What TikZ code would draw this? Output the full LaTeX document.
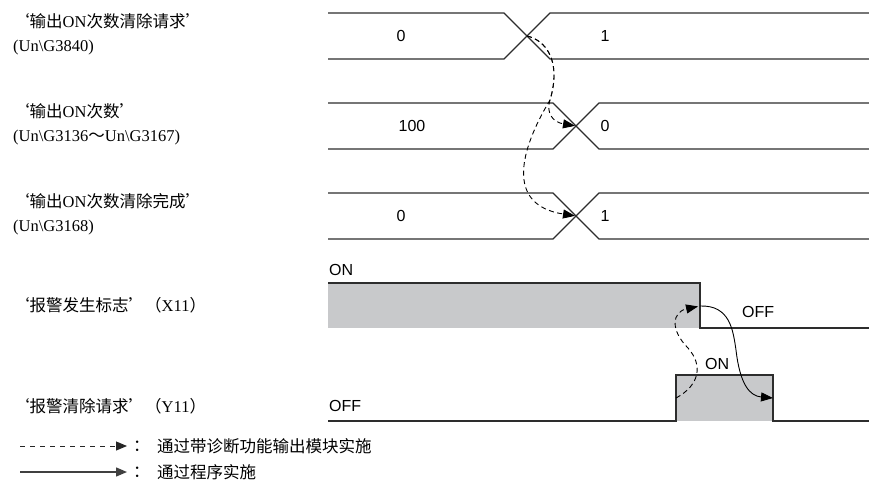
\documentclass[tikz,border=0pt]{standalone}
\usepackage{fontspec}
\setmainfont{Liberation Sans}
\newfontfamily\cjk{Noto Sans CJK SC}
\newfontfamily\lser{Liberation Serif}
\newcommand{\lt}[1]{{\lser #1}}
\usetikzlibrary{arrows.meta}
\definecolor{wavec}{RGB}{45,45,45}
\definecolor{fillg}{RGB}{200,201,203}
\tikzset{
  wave/.style={draw=wavec, line width=1.1pt, line join=miter},
  lbl/.style={font=\cjk\fontsize{16.5}{24}\selectfont, anchor=west, inner sep=0pt, align=left},
  val/.style={font=\fontsize{16}{18}\selectfont, inner sep=0pt},
  dasharrow/.style={draw=black, line width=0.9pt, dash pattern=on 5pt off 3.5pt, -{Triangle[length=12pt,width=9pt]}},
  solidarrow/.style={draw=black, line width=0.9pt, -{Triangle[length=12pt,width=9pt]}},
  legdash/.style={draw=black!85, line width=1pt, dash pattern=on 5pt off 5pt, -{Triangle[length=11pt,width=9pt]}},
  legsolid/.style={draw=black!75, line width=1.4pt, -{Triangle[length=11pt,width=9pt]}}
}
\begin{document}
\begin{tikzpicture}[x=1pt,y=-1pt]
\useasboundingbox (0,0) rectangle (869,482);

% labels
\node[lbl] (l1) at (13,34) {‘输出\lt{ON}次数清除请求’\\\lt{(Un\textbackslash{}G3840)}};
\node[lbl] (l2) at (13,124) {‘输出\lt{ON}次数’\\\lt{(Un\textbackslash{}G3136}～\lt{Un\textbackslash{}G3167)}};
\node[lbl] (l3) at (13,214) {‘输出\lt{ON}次数清除完成’\\\lt{(Un\textbackslash{}G3168)}};
\node[lbl] (l4) at (13,305) {‘报警发生标志’（\lt{X11}）};
\node[lbl] (l5) at (13,406) {‘报警清除请求’（\lt{Y11}）};

% row 1
\draw[wave] (328,13) -- (504,13) -- (550,59) -- (869,59);
\draw[wave] (328,59) -- (504,59) -- (550,13) -- (869,13);
\coordinate (c1) at (527,36);
\node[val] (v1a) at (401,36) {0};
\node[val] (v1b) at (605,36) {1};

% row 2
\draw[wave] (328,103) -- (553,103) -- (599,149) -- (869,149);
\draw[wave] (328,149) -- (553,149) -- (599,103) -- (869,103);
\coordinate (c2) at (576,126);
\node[val] (v2a) at (412,126) {100};
\node[val] (v2b) at (605,126) {0};

% row 3
\draw[wave] (328,193) -- (553,193) -- (599,239) -- (869,239);
\draw[wave] (328,239) -- (553,239) -- (599,193) -- (869,193);
\coordinate (c3) at (576,216);
\node[val] (v3a) at (401,216) {0};
\node[val] (v3b) at (605,216) {1};

% row 4 (X11)
\fill[fillg] (328,283) rectangle (700,328);
\draw[wave] (328,283) -- (700,283) -- (700,328) -- (869,328);
\coordinate (f4) at (700,306);
\node[val, anchor=west] (on4) at (329,270) {ON};
\node[val, anchor=west] (off4) at (742,312) {OFF};

% row 5 (Y11)
\fill[fillg] (676,375) rectangle (773,421);
\draw[wave] (328,421) -- (676,421) -- (676,375) -- (773,375) -- (773,421) -- (869,421);
\coordinate (r5) at (676,398);
\coordinate (f5) at (773,398);
\node[val, anchor=west] (off5) at (329,406) {OFF};
\node[val, anchor=west] (on5) at (705,364) {ON};

% connectors
\coordinate (m1) at (550,100);
\draw[dasharrow, shorten >=1pt] (c1) .. controls (545,40) and (562,60) .. (m1) .. controls (546,112) and (552,122) .. (c2);
\draw[dasharrow, shorten >=1pt] (c1) .. controls (545,40) and (562,60) .. (m1) .. controls (520,150) and (505,205) .. (c3);
\coordinate (m2) at (688,348);
\draw[dasharrow, shorten >=2pt] (r5) .. controls (700,385) and (703,365) .. (m2) .. controls (670,330) and (672,312) .. (f4);
\coordinate (m3) at (736,350);
\draw[solidarrow] (f4) .. controls (730,305) and (733,330) .. (m3) .. controls (740,385) and (750,396) .. (f5);

% legend
\coordinate (la) at (20,446);
\coordinate (lb) at (127,446);
\coordinate (lc) at (20,472);
\coordinate (ld) at (127,472);
\draw[legdash] (la) -- (lb);
\draw[legsolid] (lc) -- (ld);
\node[lbl] (t1) at (133,446) {：};
\node[lbl] (t2) at (157,446) {通过带诊断功能输出模块实施};
\node[lbl] (t3) at (133,472) {：};
\node[lbl] (t4) at (157,472) {通过程序实施};
\end{tikzpicture}
\end{document}
